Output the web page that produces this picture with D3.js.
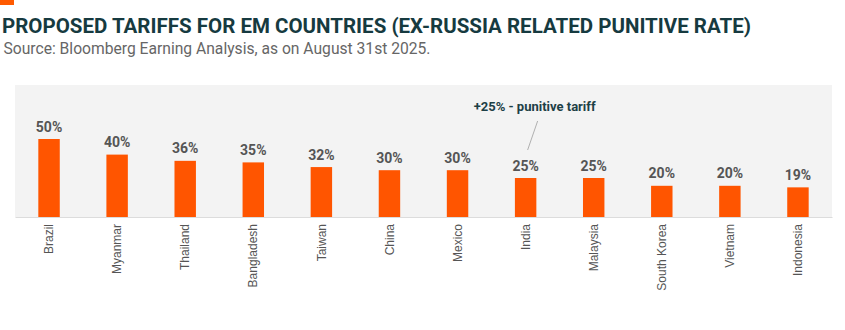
<!DOCTYPE html>
<html><head><meta charset="utf-8">
<script src="https://cdn.jsdelivr.net/npm/d3@7"></script>
<style>html,body{margin:0;padding:0;background:#fff;}svg{display:block;}</style>
</head><body>
<script>
const categories = ["Brazil","Myanmar","Thailand","Bangladesh","Taiwan","China","Mexico","India","Malaysia","South Korea","Vietnam","Indonesia"];
const values = [50,40,36,35,32,30,30,25,25,20,20,19];
const titleText = "PROPOSED TARIFFS FOR EM COUNTRIES (EX-RUSSIA RELATED PUNITIVE RATE)";
const subtitleText = "Source: Bloomberg Earning Analysis, as on August 31st 2025.";
const annotationText = "+25% - punitive tariff";
const annotatedCategory = "India";

const W = 845, H = 330;
const svg = d3.select("body").append("svg").attr("width", W).attr("height", H);

// top-left accent
svg.append("rect").attr("x",0).attr("y",0).attr("width",14).attr("height",5).attr("fill","#ff5a00");

svg.append("text").attr("x",2).attr("y",32.5)
  .attr("font-family","Roboto, 'Noto Sans', sans-serif").attr("font-weight",700).attr("font-size",21)
  .attr("fill","#163a40").attr("textLength",749).attr("lengthAdjust","spacingAndGlyphs").text(titleText);

svg.append("text").attr("x",3.5).attr("y",53.5)
  .attr("font-family","Roboto, 'Noto Sans', sans-serif").attr("font-size",16)
  .attr("fill","#666").attr("textLength",427).attr("lengthAdjust","spacingAndGlyphs").text(subtitleText);

const plot = {x0:15, x1:832, top:85, base:217};
svg.append("rect").attr("x",plot.x0).attr("y",plot.top).attr("width",plot.x1-plot.x0).attr("height",plot.base-plot.top).attr("fill","#f3f3f3");

const x = d3.scaleBand().domain(categories).range([plot.x0, plot.x1]).paddingInner(0.685).paddingOuter(0.3425);
const y = d3.scaleLinear().domain([0,50]).range([plot.base, 139]);

svg.append("g").selectAll("rect").data(categories).join("rect")
  .attr("x", d => x(d)).attr("width", x.bandwidth())
  .attr("y", (d,i) => y(values[i])).attr("height", (d,i) => y(0) - y(values[i]))
  .attr("fill","#ff5500");

svg.append("g").selectAll("text").data(categories).join("text")
  .attr("x", d => x(d) + x.bandwidth()/2).attr("y", (d,i) => y(values[i]) - 7.5)
  .attr("text-anchor","middle").attr("font-family","Roboto, sans-serif").attr("font-weight",700)
  .attr("font-size",14).attr("fill","#555").text((d,i) => values[i] + "%");

// axis
const axis = d3.axisBottom(x).tickSize(0).tickPadding(0);
const gx = svg.append("g").attr("transform",`translate(0,${plot.base})`).call(axis);
gx.select(".domain").attr("stroke","#dcdcdc").attr("stroke-width",1.2);
gx.selectAll(".tick text")
  .attr("transform","rotate(-90)").attr("text-anchor","end").attr("dy","0.35em").attr("x",-7).attr("y",0)
  .attr("font-family","'Liberation Sans', Arial, sans-serif").attr("font-size",12).attr("fill","#555");

// annotation
const ax = x(annotatedCategory) + x.bandwidth()/2;
const ay = y(values[categories.indexOf(annotatedCategory)]);
svg.append("line").attr("x1", ax + 2).attr("y1", ay - 28).attr("x2", ax + 12).attr("y2", ay - 57)
  .attr("stroke","#b0b0b0").attr("stroke-width",1);
svg.append("text").attr("x", ax - 52).attr("y", ay - 67.5)
  .attr("font-family","Roboto, sans-serif").attr("font-weight",700).attr("font-size",13)
  .attr("fill","#1d4046").attr("textLength",122).attr("lengthAdjust","spacingAndGlyphs").text(annotationText);
</script>
</body></html>
